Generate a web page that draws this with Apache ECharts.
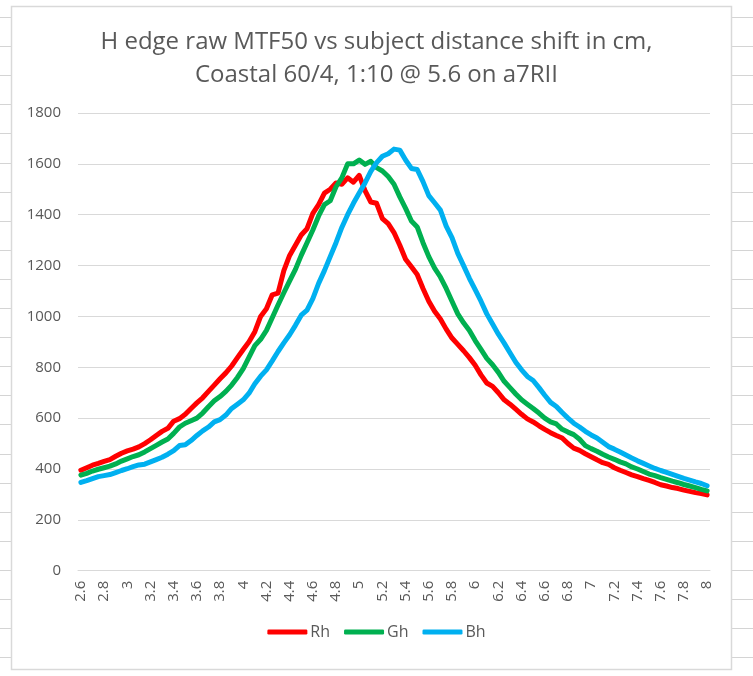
<!DOCTYPE html>
<html>
<head>
<meta charset="utf-8">
<script src="https://cdn.jsdelivr.net/npm/echarts@6/dist/echarts.min.js"></script>
<style>
html,body{margin:0;padding:0;background:#fff;}
#c{width:753px;height:676px;}
</style>
</head>
<body>
<div id="c"></div>
<script>
var xValues = [2.6,2.65,2.7,2.75,2.8,2.85,2.9,2.95,3,3.05,3.1,3.15,3.2,3.25,3.3,3.35,3.4,3.45,3.5,3.55,3.6,3.65,3.7,3.75,3.8,3.85,3.9,3.95,4,4.05,4.1,4.15,4.2,4.25,4.3,4.35,4.4,4.45,4.5,4.55,4.6,4.65,4.7,4.75,4.8,4.85,4.9,4.95,5,5.05,5.1,5.15,5.2,5.25,5.3,5.35,5.4,5.45,5.5,5.55,5.6,5.65,5.7,5.75,5.8,5.85,5.9,5.95,6,6.05,6.1,6.15,6.2,6.25,6.3,6.35,6.4,6.45,6.5,6.55,6.6,6.65,6.7,6.75,6.8,6.85,6.9,6.95,7,7.05,7.1,7.15,7.2,7.25,7.3,7.35,7.4,7.45,7.5,7.55,7.6,7.65,7.7,7.75,7.8,7.85,7.9,7.95,8];

var rh = [395,405,415,422,430,437,450,462,471,478,487,500,515,532,548,560,588,598,615,638,660,680,705,730,755,778,805,838,870,900,940,1000,1030,1085,1092,1180,1240,1280,1320,1345,1405,1440,1485,1500,1525,1520,1545,1528,1555,1495,1450,1445,1385,1365,1330,1280,1225,1195,1165,1110,1060,1020,990,950,915,890,865,838,808,770,738,725,700,672,655,635,615,597,585,570,556,543,532,522,500,482,473,460,448,436,425,418,405,395,386,377,370,362,355,347,338,333,327,323,317,312,307,303,298];

var gh = [376,383,392,399,405,411,420,431,440,449,456,467,480,493,506,518,540,565,580,590,600,620,645,668,685,705,730,760,795,840,885,910,945,995,1045,1093,1140,1185,1240,1290,1340,1395,1440,1455,1510,1545,1600,1600,1615,1598,1610,1585,1572,1550,1520,1470,1425,1375,1352,1290,1235,1190,1155,1110,1060,1010,975,945,905,870,835,810,780,745,720,695,672,655,638,620,600,585,577,556,545,535,517,492,480,470,458,447,438,428,420,408,400,390,380,374,366,359,352,346,339,333,327,320,314];

var bh = [347,354,362,370,374,378,386,394,401,409,416,419,428,437,446,458,472,492,495,512,532,550,565,585,594,612,638,655,672,698,735,765,790,825,862,896,928,965,1005,1025,1070,1130,1180,1235,1290,1350,1400,1445,1485,1525,1570,1605,1630,1640,1658,1654,1615,1582,1578,1530,1475,1447,1418,1355,1310,1248,1200,1150,1105,1060,1010,970,930,895,857,820,790,764,748,720,690,662,646,622,600,580,565,548,534,522,505,488,478,467,455,443,432,422,412,402,394,387,379,371,363,356,349,343,334];

var seriesNames = ['Rh','Gh','Bh'];
var seriesColors = ['#FF0000','#00B050','#00B0F0'];
var titleLines = ['H edge raw MTF50 vs subject distance shift in cm,','Coastal 60/4, 1:10 @ 5.6 on a7RII'];

var chart = echarts.init(document.getElementById('c'), null, {renderer:'canvas'});

var bg = [];
for (var k = 0; k < 23; k++) {
  var yy = Math.round(17 + 29.1 * k) + 0.5;
  bg.push({type:'line', silent:true, z:-10, shape:{x1:0,y1:yy,x2:12,y2:yy}, style:{stroke:'#D4D4D4',lineWidth:1}});
  bg.push({type:'line', silent:true, z:-10, shape:{x1:732,y1:yy,x2:753,y2:yy}, style:{stroke:'#D4D4D4',lineWidth:1}});
}
bg.push({type:'rect', silent:true, z:-5, shape:{x:11.5,y:6.5,width:720,height:663}, style:{fill:'#fff',stroke:'#D9D9D9',lineWidth:1.5}});

var data = [rh, gh, bh];
var series = seriesNames.map(function(n, i){
  return {
    name: n, type: 'line', data: data[i], showSymbol: false, symbol: 'none',
    smooth: false,
    lineStyle: {color: seriesColors[i], width: 5, cap: 'round', join: 'round'},
    itemStyle: {color: seriesColors[i]},
    animation: false
  };
});

chart.setOption({
  animation: false,
  backgroundColor: 'transparent',
  graphic: bg,
  title: {
    text: titleLines.join('\n'),
    left: 'center',
    top: 21,
    textStyle: {fontFamily:'Open Sans', fontSize: 24, fontWeight: 'normal', color: '#595959', lineHeight: 33}
  },
  legend: {
    data: seriesNames,
    bottom: 31,
    left: 'center',
    icon: 'roundRect',
    itemWidth: 40,
    itemHeight: 5,
    itemGap: 14,
    textStyle: {fontFamily:'Open Sans', fontSize: 16, color: '#595959', padding:[0,0,0,-2]}
  },
  grid: {left: 78, right: 43, top: 113, bottom: 105.3, containLabel: false},
  xAxis: {
    type: 'category',
    data: xValues.map(function(v){ return String(v); }),
    boundaryGap: true,
    axisLine: {lineStyle: {color: '#D9D9D9', width: 1}},
    axisTick: {show: false},
    axisLabel: {interval: 3, rotate: 90, margin: 10, fontFamily:'Open Sans', fontSize: 15, color: '#595959'},
    splitLine: {show: false}
  },
  yAxis: {
    type: 'value',
    min: 0, max: 1800, interval: 200,
    axisLine: {show: false},
    axisTick: {show: false},
    axisLabel: {margin: 17, fontFamily:'Open Sans', fontSize: 15, color: '#595959', formatter: function(v){ return String(v); }},
    splitLine: {lineStyle: {color: '#D9D9D9', width: 1}}
  },
  series: series
});
</script>
</body>
</html>
